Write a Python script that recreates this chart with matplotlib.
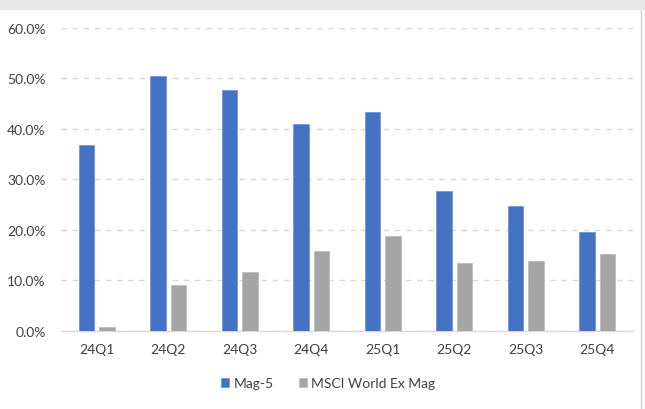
import numpy as np
import matplotlib.pyplot as plt
from matplotlib.patches import Rectangle
from matplotlib.lines import Line2D

# date
quarters = ["24Q1", "24Q2", "24Q3", "24Q4", "25Q1", "25Q2", "25Q3", "25Q4"]
mag5 = [36.8, 50.4, 47.7, 41.0, 43.3, 27.7, 24.6, 19.5]
msci_ex_mag = [0.8, 9.0, 11.7, 15.8, 18.8, 13.5, 13.8, 15.1]
yticks = [0, 10, 20, 30, 40, 50, 60]

plt.rcParams["font.family"] = ["Lato", "DejaVu Sans"]

fig = plt.figure(figsize=(6.45, 4.10), dpi=100)
fig.patch.set_facecolor("white")

# banda gri din partea de sus + marginea din dreapta
fig.add_artist(Rectangle((0, 1 - 11 / 410), 1, 11 / 410, transform=fig.transFigure,
                         facecolor="#e6e7e8", edgecolor="none"))
fig.add_artist(Line2D([641 / 645, 641 / 645], [0, 1 - 11 / 410], transform=fig.transFigure,
                      color="#d0d0d0", lw=1))

ax = fig.add_axes([61 / 645, 0.191, 572 / 645, 0.739])

x = np.arange(len(quarters))
w = 0.22
ax.bar(x - 0.145, mag5, width=w, color="#4472C4", edgecolor="#6a8fd3", linewidth=0.5,
       label="Mag-5", zorder=3)
ax.bar(x + 0.145, msci_ex_mag, width=w, color="#A5A5A5", edgecolor="#b8b8b8", linewidth=0.5,
       label="MSCI World Ex Mag", zorder=3)

ax.set_xlim(-0.5, len(quarters) - 0.5)
ax.set_ylim(0, 60)
ax.set_yticks(yticks)
ax.set_yticklabels([f"{v:.1f}%" for v in yticks])
ax.set_xticks(x)
ax.set_xticklabels(quarters)

ax.yaxis.grid(True, linestyle=(0, (4, 4)), color="#d9d9d9", linewidth=1, zorder=0)
for s in ["top", "right", "left"]:
    ax.spines[s].set_visible(False)
ax.spines["bottom"].set_color("#d9d9d9")
ax.spines["bottom"].set_linewidth(1)
ax.tick_params(axis="both", length=0, labelsize=10, colors="#404040")
ax.tick_params(axis="x", pad=9)
ax.tick_params(axis="y", pad=11)

fig.legend(loc="center", bbox_to_anchor=(328 / 645, 1 - 384 / 410), ncol=2, frameon=False,
           fontsize=10, handlelength=0.6, handleheight=0.6, columnspacing=1.8,
           handletextpad=0.3, labelcolor="#404040")

fig.savefig("out.png", dpi=100)
